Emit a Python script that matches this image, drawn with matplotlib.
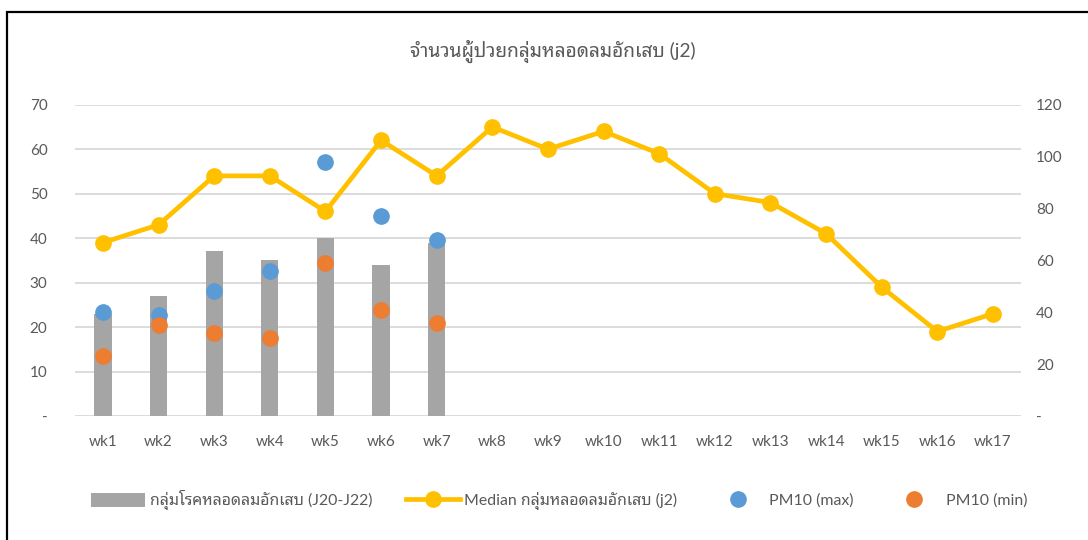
import matplotlib
matplotlib.use('Agg')
import matplotlib.pyplot as plt
from matplotlib.patches import Rectangle
from matplotlib.ticker import FuncFormatter

plt.rcParams['font.family'] = ['Lato', 'Noto Sans Thai Looped', 'DejaVu Sans']

weeks = ['wk%d' % i for i in range(1, 18)]
patients = [23, 27, 37, 35, 40, 34, 39]
median_j2 = [39, 43, 54, 54, 46, 62, 54, 65, 60, 64, 59, 50, 48, 41, 29, 19, 23]
pm10_max = [40, 39, 48, 56, 98, 77, 68]
pm10_min = [23, 35, 32, 30, 59, 41, 36]

grey_txt = '#595959'
grid_c = '#D9D9D9'

fig = plt.figure(figsize=(10.88, 5.4), dpi=100)
ax = fig.add_axes([0.0691, 0.2296, 0.8691, 0.5765])
ax2 = ax.twinx()

x = list(range(len(weeks)))
b = ax.bar(x[:len(patients)], patients, width=0.31, color='#A5A5A5', zorder=2,
           label='กลุ่มโรคหลอดลมอักเสบ (J20-J22)')
l, = ax.plot(x, median_j2, color='#FFC000', lw=3.4, marker='o', ms=11, zorder=3,
             label='Median กลุ่มหลอดลมอักเสบ (j2)')
s1, = ax2.plot(x[:len(pm10_max)], pm10_max, 'o', color='#5B9BD5', ms=11, zorder=4,
               label='PM10 (max)')
s2, = ax2.plot(x[:len(pm10_min)], pm10_min, 'o', color='#ED7D31', ms=11, zorder=4,
               label='PM10 (min)')

ax.set_xlim(-0.5, len(weeks) - 0.5)
ax.set_ylim(0, 70)
ax2.set_ylim(0, 120)
ax.set_yticks(range(0, 71, 10))
ax2.set_yticks(range(0, 121, 20))
dash = FuncFormatter(lambda v, p: '-' if v == 0 else '%d' % v)
ax.yaxis.set_major_formatter(dash)
ax2.yaxis.set_major_formatter(dash)
ax.set_xticks(x)
ax.set_xticklabels(weeks)

for a in (ax, ax2):
    for sp in a.spines.values():
        sp.set_visible(False)
    a.tick_params(length=0, labelsize=11, labelcolor=grey_txt)
ax.tick_params(axis='y', pad=20)
ax2.tick_params(axis='y', pad=11)
ax.tick_params(axis='x', pad=14)
ax.grid(axis='y', color=grid_c, lw=1.3, zorder=0)
ax.set_axisbelow(True)

fig.text(0.508, 0.905, 'จำนวนผู้ป่วยกลุ่มหลอดลมอักเสบ (j2)', ha='center', va='center',
         fontsize=13.8, color=grey_txt)

leg = fig.legend([b, l, s1, s2], [b.get_label(), l.get_label(), s1.get_label(), s2.get_label()],
                 loc='center', bbox_to_anchor=(0.514, 0.074), ncol=4, frameon=False,
                 fontsize=11.4, handlelength=3.4, handleheight=1.0,
                 columnspacing=2.1, handletextpad=0.3)
for t in leg.get_texts():
    t.set_color(grey_txt)

fig.patches.append(Rectangle((7 / 1088, -0.1), 1.2, 1 - 12 / 540 + 0.1, transform=fig.transFigure,
                             fill=False, edgecolor='black', lw=1.6))

fig.savefig('out.png')
